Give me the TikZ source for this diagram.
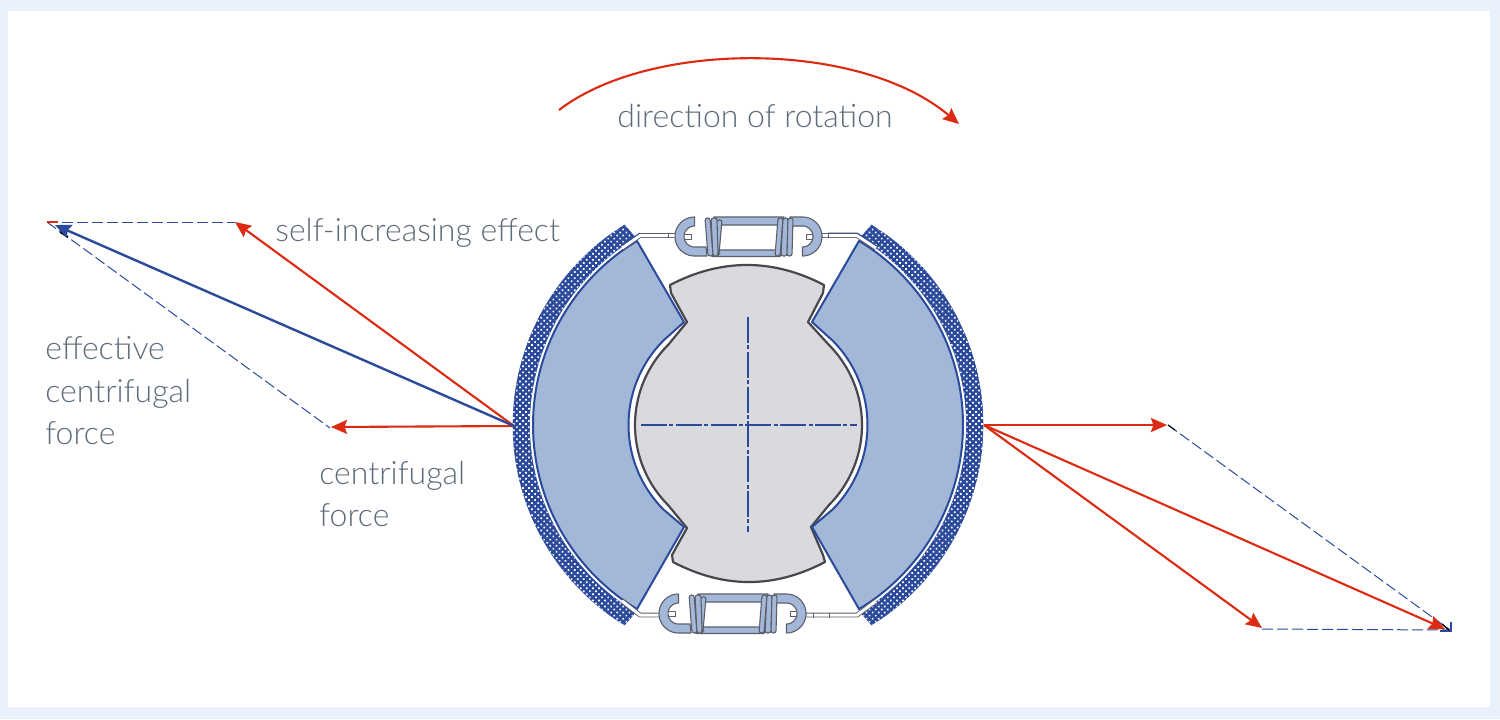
\documentclass[tikz,border=0pt]{standalone}
\usepackage{fontspec}
\setmainfont{Lato}[UprightFont=* Light]
\usetikzlibrary{arrows.meta,patterns.meta}
\definecolor{bgblue}{HTML}{E8F0FB}
\definecolor{redarrow}{HTML}{DD2A12}
\definecolor{navy}{HTML}{2B4A9B}
\definecolor{shoefill}{HTML}{A3B8D8}
\definecolor{camfill}{HTML}{D9D9DE}
\definecolor{camline}{HTML}{47474D}
\definecolor{labelgrey}{HTML}{5F6B7A}
\definecolor{springline}{HTML}{5C5F6B}
\tikzset{
  labeltext/.style={anchor=base west,inner sep=0pt,text=labelgrey,font=\fontsize{16}{18}\selectfont},
  forcearrow/.style={draw=redarrow,line width=1.05pt,-{Stealth[length=8pt,width=7pt,inset=1.2pt]}},
  resultant/.style={draw=navy,line width=1.2pt,-{Stealth[length=8pt,width=7pt,inset=1.2pt]}},
  guide/.style={draw=navy,line width=.5pt,dash pattern=on 5.5pt off 2pt},
  axisline/.style={draw=navy,line width=.6pt,dash pattern=on 13pt off 1.2pt on 2pt off 1.2pt},
  shoe/.style={fill=shoefill,draw=navy,line width=1pt,line join=round},
  liningring/.style={fill=navy,draw=navy,line width=.3pt},
  liningdots/.style={pattern={Dots[distance=2.15pt,radius=.6pt,angle=45]},pattern color=white},
  cambody/.style={fill=camfill,draw=camline,line width=1.1pt,line join=round},
  springpart/.style={fill=shoefill,draw=springline,line width=.55pt,line join=round},
  wire/.style={draw=springline,double=white,line width=.45pt,double distance=1.5pt,line join=miter},
  tabpart/.style={fill=white,draw=springline,line width=.45pt},
}
\begin{document}
\begin{tikzpicture}[x=0.5pt,y=-0.5pt]
\useasboundingbox (0,0) rectangle (1500,719);
\fill[bgblue] (0,0) rectangle (1500,719);
\fill[white] (8,11) rectangle (1490,707);

% named anchor points
\coordinate (hubL) at (514,426);
\coordinate (hubR) at (984,425);
\coordinate (cfL) at (331,427);
\coordinate (seL) at (235,222);
\coordinate (ecL) at (55,225);
\coordinate (apexL) at (47,222);
\coordinate (cfLd) at (330,428);
\coordinate (cfR) at (1167,425);
\coordinate (cfRd) at (1168,425);
\coordinate (seR) at (1262,628);
\coordinate (seRd) at (1262,629);
\coordinate (ecR) at (1445,629);
\coordinate (apexR) at (1450,630);
\coordinate (rotA) at (559,110);
\coordinate (rotB) at (959,124);

% linings
\foreach \st in {liningring,liningdots}{
\path[\st] plot[domain=238.3:121.7,samples=40,smooth] ({748+235*cos(\x)},{425+235*sin(\x)})
  -- plot[domain=121:239,samples=40,smooth] ({748+218.5*cos(\x)},{425+218.5*sin(\x)}) -- cycle;
\path[\st] plot[domain=-58.3:58.3,samples=40,smooth] ({748+235*cos(\x)},{425+235*sin(\x)})
  -- plot[domain=59:-59,samples=40,smooth] ({748+218.5*cos(\x)},{425+218.5*sin(\x)}) -- cycle;
}

% cam
\path[cambody] (670,285) .. controls (721,258.3) and (773,258.3) .. (824,285)
  -- (823,293) -- (808,322) -- (829,345)
  -- plot[domain=-45:45,samples=30,smooth] ({748.5+113.5*cos(\x)},{425+113.5*sin(\x)})
  -- (811,527) -- (823,555) -- (825,562) .. controls (774,588.7) and (724,588.7) .. (673,562)
  -- (672,555) -- (687,528) -- (668,505)
  -- plot[domain=135:225,samples=30,smooth] ({748.5+113.5*cos(\x)},{425+113.5*sin(\x)})
  -- (687,322) -- (671,293) -- cycle;

% shoes
\path[shoe] plot[domain=238.9:121.1,samples=40,smooth] ({748+215*cos(\x)},{425+215*sin(\x)})
  -- (684,527) -- plot[domain=135:225,samples=30,smooth] ({748+119.5*cos(\x)},{425+119.5*sin(\x)})
  -- (684,322) -- cycle;
\path[shoe] plot[domain=-58.9:58.9,samples=40,smooth] ({748+215*cos(\x)},{425+215*sin(\x)})
  -- (812,527) -- plot[domain=45:-45,samples=30,smooth] ({748+119.5*cos(\x)},{425+119.5*sin(\x)})
  -- (812,322) -- cycle;

% centre lines
\coordinate (axW) at (641,425);
\coordinate (axE) at (857,425);
\coordinate (axN) at (748,317);
\coordinate (axS) at (748,532);
\path[axisline] (axW) -- (axE);
\path[axisline] (axN) -- (axS);

% wires
\path[wire] (622,248) -- (640,235.5) -- (676,235.5);
\path[wire] (822,235.5) -- (857,235.5) -- (876,248);
\path[wire] (622,601) -- (640,615) -- (660,615);
\path[wire] (806,615) -- (857,615) -- (876,601);
\coordinate (wtA) at (828,233); \coordinate (wtB) at (857,233); \coordinate (wtC) at (876,245.5);
\draw[navy,line width=.45pt] (wtA) -- (wtB) -- (wtC);
\coordinate (wlA) at (640,233); \coordinate (wlB) at (622,245.5);
\draw[navy,line width=.45pt] (wlA) -- (wlB);
\coordinate (tkA) at (668,233); \coordinate (tkB) at (668,238);
\draw[springline,line width=.45pt] (tkA) -- (tkB);
\coordinate (tkC) at (828,233); \coordinate (tkD) at (828,238);
\draw[springline,line width=.45pt] (tkC) -- (tkD);
\coordinate (tkE) at (813,613); \coordinate (tkF) at (813,618);
\draw[springline,line width=.45pt] (tkE) -- (tkF);
\coordinate (tkG) at (829,613); \coordinate (tkH) at (829,618);
\draw[springline,line width=.45pt] (tkG) -- (tkH);

% springs
\foreach \sx/\sy in {0/0,-16/377}{
\begin{scope}[shift={(\sx,\sy)}]
  \draw[tabpart] (683,234) rectangle (691,239);
  \draw[tabpart] (806,234) rectangle (814,239);
  \path[springpart] (714,217) -- (784,217) -- (782,225) -- (716,225) -- cycle;
  \path[springpart] (712,250) -- (782,250) -- (780,256.5) -- (712,256.5) -- cycle;
  \path[springpart] plot[domain=270:90,samples=24,smooth] ({694.5+19.5*cos(\x)},{236.5+19.5*sin(\x)})
     -- (707,256) -- (706,247) -- plot[domain=90:270,samples=16,smooth] ({694.5+10.5*cos(\x)},{236.5+10.5*sin(\x)}) -- cycle;
  \path[springpart] plot[domain=90:-90,samples=24,smooth] ({802.5+19.5*cos(\x)},{236.5+19.5*sin(\x)})
     -- (790,217) -- (790,226) -- plot[domain=-90:90,samples=16,smooth] ({802.5+10.5*cos(\x)},{236.5+10.5*sin(\x)}) -- cycle;
  \path[springpart,rounded corners=1.2pt] (705,218) -- (710,218) -- (713,256) -- (708,256) -- cycle;
  \path[springpart,rounded corners=1.2pt] (711,218) -- (717,218) -- (719,256) -- (713,256) -- cycle;
  \path[springpart,rounded corners=1pt] (717,220) -- (722,220) -- (719,254) -- (718,254) -- cycle;
  \path[springpart,rounded corners=1.2pt] (778,218) -- (783,218) -- (780,256) -- (775,256) -- cycle;
  \path[springpart,rounded corners=1.2pt] (783,218) -- (788,218) -- (787,256) -- (781,256) -- cycle;
  \path[springpart,rounded corners=1.2pt] (788,218) -- (793,218) -- (792,256) -- (787,256) -- cycle;
\end{scope}}

% force diagrams: dashed guides
\path[guide] (apexL) -- (seL);
\path[guide] (apexL) -- (cfLd);
\path[guide] (cfRd) -- (apexR);
\path[guide] (seRd) -- (apexR);
\coordinate (rA) at (47,222); \coordinate (rB) at (58,222);
\draw[redarrow,line width=1pt] (rA) -- (rB);
\coordinate (kA) at (60,232); \coordinate (kB) at (68,237);
\draw[black,line width=.9pt] (kA) -- (kB);
\coordinate (kC) at (1168,425); \coordinate (kD) at (1175,430);
\draw[black,line width=.5pt] (kC) -- (kD);
\coordinate (cA) at (1440,631); \coordinate (cB) at (1451,631); \coordinate (cC) at (1451,622);
\draw[navy,line width=1.2pt] (cA) -- (cB) -- (cC);
\coordinate (kE) at (1442,624); \coordinate (kF) at (1449,630);
\draw[black,line width=.7pt] (kE) -- (kF);

% force arrows
\path[forcearrow] (hubL) -- (cfL);
\path[forcearrow] (hubL) -- (seL);
\path[resultant] (hubL) -- (ecL);
\path[forcearrow] (hubR) -- (cfR);
\path[forcearrow] (hubR) -- (seR);
\path[forcearrow] (hubR) -- (ecR);

% rotation arrow
\path[forcearrow] (rotA) .. controls (650,40) and (860,40) .. (rotB);

% labels
\node[labeltext] (tRot) at (617,127) {direction of rotation};
\node[labeltext] (tSelf) at (275,241) {self-increasing effect};
\node[labeltext] (tEff1) at (45,359) {effective};
\node[labeltext] (tEff2) at (45,402) {centrifugal};
\node[labeltext] (tEff3) at (45,444) {force};
\node[labeltext] (tCen1) at (319,484) {centrifugal};
\node[labeltext] (tCen2) at (319,526) {force};
\end{tikzpicture}
\end{document}
